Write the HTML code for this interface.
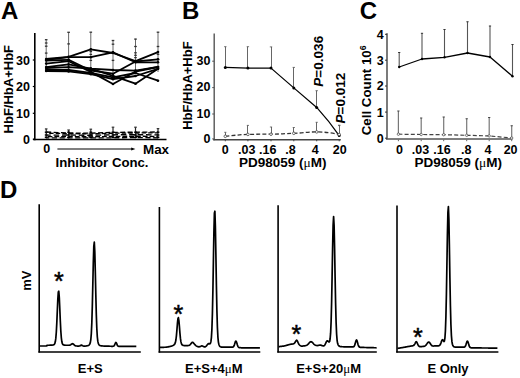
<!DOCTYPE html>
<html><head><meta charset="utf-8"><style>
html,body{margin:0;padding:0;background:#fff;}
svg{display:block;}
</style></head><body>
<svg width="520" height="378" viewBox="0 0 520 378" font-family="Liberation Sans" font-weight="bold" fill="#000">
<rect width="520" height="378" fill="#fff"/>
<text x="1" y="18.7" font-size="24" text-anchor="start" >A</text>
<line x1="34.8" y1="33" x2="34.8" y2="140.2" stroke="#000" stroke-width="1.6" />
<line x1="33" y1="139.5" x2="166.5" y2="139.5" stroke="#000" stroke-width="1.6" />
<line x1="32.8" y1="139.2" x2="34.8" y2="139.2" stroke="#000" stroke-width="1.2" />
<text x="30" y="143.7" font-size="12.5" text-anchor="end" >0</text>
<line x1="32.8" y1="113.3" x2="34.8" y2="113.3" stroke="#000" stroke-width="1.2" />
<text x="30" y="117.8" font-size="12.5" text-anchor="end" >10</text>
<line x1="32.8" y1="86.5" x2="34.8" y2="86.5" stroke="#000" stroke-width="1.2" />
<text x="30" y="91.0" font-size="12.5" text-anchor="end" >20</text>
<line x1="32.8" y1="60" x2="34.8" y2="60" stroke="#000" stroke-width="1.2" />
<text x="30" y="64.5" font-size="12.5" text-anchor="end" >30</text>
<text transform="translate(12.6,89.2) rotate(-90)" font-size="13" text-anchor="middle" >HbF/HbA+HbF</text>
<line x1="46.2" y1="39.8" x2="46.2" y2="72" stroke="#666" stroke-width="1.0" />
<line x1="44.9" y1="39.7" x2="47.5" y2="39.7" stroke="#333" stroke-width="1.3" />
<line x1="44.9" y1="43" x2="47.5" y2="43" stroke="#333" stroke-width="1.3" />
<line x1="44.9" y1="46.2" x2="47.5" y2="46.2" stroke="#333" stroke-width="1.3" />
<line x1="44.9" y1="53.1" x2="47.5" y2="53.1" stroke="#333" stroke-width="1.3" />
<line x1="68.6" y1="32.4" x2="68.6" y2="72" stroke="#666" stroke-width="1.0" />
<line x1="67.3" y1="32.3" x2="69.9" y2="32.3" stroke="#333" stroke-width="1.3" />
<line x1="67.3" y1="43.9" x2="69.9" y2="43.9" stroke="#333" stroke-width="1.3" />
<line x1="90.8" y1="32.4" x2="90.8" y2="72" stroke="#666" stroke-width="1.0" />
<line x1="89.5" y1="32.2" x2="92.1" y2="32.2" stroke="#333" stroke-width="1.3" />
<line x1="89.5" y1="51.6" x2="92.1" y2="51.6" stroke="#333" stroke-width="1.3" />
<line x1="89.5" y1="54.4" x2="92.1" y2="54.4" stroke="#333" stroke-width="1.3" />
<line x1="89.5" y1="60.4" x2="92.1" y2="60.4" stroke="#333" stroke-width="1.3" />
<line x1="113" y1="40.5" x2="113" y2="72" stroke="#666" stroke-width="1.0" />
<line x1="111.7" y1="40.5" x2="114.3" y2="40.5" stroke="#333" stroke-width="1.3" />
<line x1="111.7" y1="44.2" x2="114.3" y2="44.2" stroke="#333" stroke-width="1.3" />
<line x1="111.7" y1="60.4" x2="114.3" y2="60.4" stroke="#333" stroke-width="1.3" />
<line x1="135.5" y1="38.8" x2="135.5" y2="72" stroke="#666" stroke-width="1.0" />
<line x1="134.2" y1="39.1" x2="136.8" y2="39.1" stroke="#333" stroke-width="1.3" />
<line x1="134.2" y1="46.5" x2="136.8" y2="46.5" stroke="#333" stroke-width="1.3" />
<line x1="134.2" y1="52.8" x2="136.8" y2="52.8" stroke="#333" stroke-width="1.3" />
<line x1="134.2" y1="55.3" x2="136.8" y2="55.3" stroke="#333" stroke-width="1.3" />
<line x1="134.2" y1="57.6" x2="136.8" y2="57.6" stroke="#333" stroke-width="1.3" />
<line x1="158" y1="32.2" x2="158" y2="72" stroke="#666" stroke-width="1.0" />
<line x1="156.7" y1="32.2" x2="159.3" y2="32.2" stroke="#333" stroke-width="1.3" />
<line x1="156.7" y1="46.5" x2="159.3" y2="46.5" stroke="#333" stroke-width="1.3" />
<line x1="156.7" y1="54.4" x2="159.3" y2="54.4" stroke="#333" stroke-width="1.3" />
<line x1="156.7" y1="59.5" x2="159.3" y2="59.5" stroke="#333" stroke-width="1.3" />
<polyline points="46.20,59.00 68.60,56.80 90.80,49.30 113.00,53.00 135.50,61.10 158.00,52.10" fill="none" stroke="#000" stroke-width="1.8" stroke-linejoin="round" />
<circle cx="46.2" cy="59.0" r="1.3" fill="#000"/>
<circle cx="68.6" cy="56.8" r="1.3" fill="#000"/>
<circle cx="90.8" cy="49.3" r="1.3" fill="#000"/>
<circle cx="113" cy="53.0" r="1.3" fill="#000"/>
<circle cx="135.5" cy="61.1" r="1.3" fill="#000"/>
<circle cx="158" cy="52.1" r="1.3" fill="#000"/>
<polyline points="46.20,59.80 68.60,57.20 90.80,57.20 113.00,52.40 135.50,62.30 158.00,62.30" fill="none" stroke="#000" stroke-width="1.8" stroke-linejoin="round" />
<circle cx="46.2" cy="59.8" r="1.3" fill="#000"/>
<circle cx="68.6" cy="57.2" r="1.3" fill="#000"/>
<circle cx="90.8" cy="57.2" r="1.3" fill="#000"/>
<circle cx="113" cy="52.4" r="1.3" fill="#000"/>
<circle cx="135.5" cy="62.3" r="1.3" fill="#000"/>
<circle cx="158" cy="62.3" r="1.3" fill="#000"/>
<polyline points="46.20,60.50 68.60,59.80 90.80,70.50 113.00,73.70 135.50,61.50 158.00,59.30" fill="none" stroke="#000" stroke-width="1.8" stroke-linejoin="round" />
<circle cx="46.2" cy="60.5" r="1.3" fill="#000"/>
<circle cx="68.6" cy="59.8" r="1.3" fill="#000"/>
<circle cx="90.8" cy="70.5" r="1.3" fill="#000"/>
<circle cx="113" cy="73.7" r="1.3" fill="#000"/>
<circle cx="135.5" cy="61.5" r="1.3" fill="#000"/>
<circle cx="158" cy="59.3" r="1.3" fill="#000"/>
<polyline points="46.20,63.60 68.60,61.20 90.80,71.90 113.00,84.00 135.50,71.50 158.00,67.00" fill="none" stroke="#000" stroke-width="1.8" stroke-linejoin="round" />
<circle cx="46.2" cy="63.6" r="1.3" fill="#000"/>
<circle cx="68.6" cy="61.2" r="1.3" fill="#000"/>
<circle cx="90.8" cy="71.9" r="1.3" fill="#000"/>
<circle cx="113" cy="84.0" r="1.3" fill="#000"/>
<circle cx="135.5" cy="71.5" r="1.3" fill="#000"/>
<circle cx="158" cy="67.0" r="1.3" fill="#000"/>
<polyline points="46.20,67.10 68.60,64.40 90.80,68.60 113.00,70.00 135.50,70.60 158.00,67.00" fill="none" stroke="#000" stroke-width="1.8" stroke-linejoin="round" />
<circle cx="46.2" cy="67.1" r="1.3" fill="#000"/>
<circle cx="68.6" cy="64.4" r="1.3" fill="#000"/>
<circle cx="90.8" cy="68.6" r="1.3" fill="#000"/>
<circle cx="113" cy="70.0" r="1.3" fill="#000"/>
<circle cx="135.5" cy="70.6" r="1.3" fill="#000"/>
<circle cx="158" cy="67.0" r="1.3" fill="#000"/>
<polyline points="46.20,68.00 68.60,67.20 90.80,68.60 113.00,75.90 135.50,83.70 158.00,68.80" fill="none" stroke="#000" stroke-width="1.8" stroke-linejoin="round" />
<circle cx="46.2" cy="68.0" r="1.3" fill="#000"/>
<circle cx="68.6" cy="67.2" r="1.3" fill="#000"/>
<circle cx="90.8" cy="68.6" r="1.3" fill="#000"/>
<circle cx="113" cy="75.9" r="1.3" fill="#000"/>
<circle cx="135.5" cy="83.7" r="1.3" fill="#000"/>
<circle cx="158" cy="68.8" r="1.3" fill="#000"/>
<polyline points="46.20,70.00 68.60,70.00 90.80,72.80 113.00,77.40 135.50,73.00 158.00,80.70" fill="none" stroke="#000" stroke-width="1.8" stroke-linejoin="round" />
<circle cx="46.2" cy="70.0" r="1.3" fill="#000"/>
<circle cx="68.6" cy="70.0" r="1.3" fill="#000"/>
<circle cx="90.8" cy="72.8" r="1.3" fill="#000"/>
<circle cx="113" cy="77.4" r="1.3" fill="#000"/>
<circle cx="135.5" cy="73.0" r="1.3" fill="#000"/>
<circle cx="158" cy="80.7" r="1.3" fill="#000"/>
<polyline points="46.20,71.00 68.60,71.40 90.80,74.20 113.00,79.20 135.50,76.00 158.00,68.80" fill="none" stroke="#000" stroke-width="1.8" stroke-linejoin="round" />
<circle cx="46.2" cy="71.0" r="1.3" fill="#000"/>
<circle cx="68.6" cy="71.4" r="1.3" fill="#000"/>
<circle cx="90.8" cy="74.2" r="1.3" fill="#000"/>
<circle cx="113" cy="79.2" r="1.3" fill="#000"/>
<circle cx="135.5" cy="76.0" r="1.3" fill="#000"/>
<circle cx="158" cy="68.8" r="1.3" fill="#000"/>
<polyline points="46.20,132.00 68.60,133.00 90.80,133.20 113.00,132.40 135.50,132.20 158.00,132.00" fill="none" stroke="#000" stroke-width="1.35" stroke-linejoin="round" stroke-dasharray="5,2.4" stroke-dashoffset="0"/>
<polyline points="46.20,133.20 68.60,133.60 90.80,133.90 113.00,133.20 135.50,133.00 158.00,132.80" fill="none" stroke="#000" stroke-width="1.35" stroke-linejoin="round" stroke-dasharray="4.4,2.2" stroke-dashoffset="3.6"/>
<polyline points="46.20,135.20 68.60,135.00 90.80,135.30 113.00,134.80 135.50,134.60 158.00,134.90" fill="none" stroke="#000" stroke-width="1.35" stroke-linejoin="round" stroke-dasharray="5.6,2.8" stroke-dashoffset="1.0"/>
<polyline points="46.20,136.60 68.60,136.60 90.80,136.80 113.00,136.40 135.50,136.20 158.00,136.50" fill="none" stroke="#000" stroke-width="1.35" stroke-linejoin="round" stroke-dasharray="4.8,2.0" stroke-dashoffset="5.4"/>
<polyline points="46.20,137.80 68.60,137.80 90.80,137.90 113.00,137.80 135.50,137.60 158.00,137.80" fill="none" stroke="#000" stroke-width="1.35" stroke-linejoin="round" stroke-dasharray="5.2,2.6" stroke-dashoffset="2.2"/>
<line x1="46.2" y1="128.9" x2="46.2" y2="138.5" stroke="#222" stroke-width="1.2" />
<line x1="44.9" y1="128.9" x2="47.5" y2="128.9" stroke="#333" stroke-width="1.2" />
<line x1="44.8" y1="132.2" x2="47.6" y2="132.2" stroke="#000" stroke-width="1.4" />
<line x1="44.8" y1="135" x2="47.6" y2="135" stroke="#000" stroke-width="1.4" />
<line x1="44.8" y1="137.3" x2="47.6" y2="137.3" stroke="#000" stroke-width="1.4" />
<line x1="68.6" y1="130" x2="68.6" y2="138.5" stroke="#222" stroke-width="1.2" />
<line x1="67.3" y1="130" x2="69.9" y2="130" stroke="#333" stroke-width="1.2" />
<line x1="67.2" y1="132.2" x2="70" y2="132.2" stroke="#000" stroke-width="1.4" />
<line x1="67.2" y1="135" x2="70" y2="135" stroke="#000" stroke-width="1.4" />
<line x1="67.2" y1="137.3" x2="70" y2="137.3" stroke="#000" stroke-width="1.4" />
<line x1="90.8" y1="129.2" x2="90.8" y2="138.5" stroke="#222" stroke-width="1.2" />
<line x1="89.5" y1="129.2" x2="92.1" y2="129.2" stroke="#333" stroke-width="1.2" />
<line x1="89.4" y1="132.2" x2="92.2" y2="132.2" stroke="#000" stroke-width="1.4" />
<line x1="89.4" y1="135" x2="92.2" y2="135" stroke="#000" stroke-width="1.4" />
<line x1="89.4" y1="137.3" x2="92.2" y2="137.3" stroke="#000" stroke-width="1.4" />
<line x1="113" y1="127.2" x2="113" y2="138.5" stroke="#222" stroke-width="1.2" />
<line x1="111.7" y1="127.2" x2="114.3" y2="127.2" stroke="#333" stroke-width="1.2" />
<line x1="111.6" y1="132.2" x2="114.4" y2="132.2" stroke="#000" stroke-width="1.4" />
<line x1="111.6" y1="135" x2="114.4" y2="135" stroke="#000" stroke-width="1.4" />
<line x1="111.6" y1="137.3" x2="114.4" y2="137.3" stroke="#000" stroke-width="1.4" />
<line x1="135.5" y1="127.2" x2="135.5" y2="138.5" stroke="#222" stroke-width="1.2" />
<line x1="134.2" y1="127.2" x2="136.8" y2="127.2" stroke="#333" stroke-width="1.2" />
<line x1="134.1" y1="132.2" x2="136.9" y2="132.2" stroke="#000" stroke-width="1.4" />
<line x1="134.1" y1="135" x2="136.9" y2="135" stroke="#000" stroke-width="1.4" />
<line x1="134.1" y1="137.3" x2="136.9" y2="137.3" stroke="#000" stroke-width="1.4" />
<line x1="158" y1="128.6" x2="158" y2="138.5" stroke="#222" stroke-width="1.2" />
<line x1="156.7" y1="128.6" x2="159.3" y2="128.6" stroke="#333" stroke-width="1.2" />
<line x1="156.6" y1="132.2" x2="159.4" y2="132.2" stroke="#000" stroke-width="1.4" />
<line x1="156.6" y1="135" x2="159.4" y2="135" stroke="#000" stroke-width="1.4" />
<line x1="156.6" y1="137.3" x2="159.4" y2="137.3" stroke="#000" stroke-width="1.4" />
<text x="43.2" y="153.4" font-size="12.5" text-anchor="start" >0</text>
<line x1="57.4" y1="149" x2="132" y2="149" stroke="#000" stroke-width="1.2" />
<path d="M135.4,149 L131.2,147.4 L131.2,150.6 Z" fill="#000"/>
<text x="143" y="153.7" font-size="13.4" text-anchor="start" >Max</text>
<text x="55.5" y="167.2" font-size="13.2" text-anchor="start" >Inhibitor Conc.</text>
<text x="182" y="18.7" font-size="24" text-anchor="start" >B</text>
<line x1="214.2" y1="33.6" x2="214.2" y2="140.3" stroke="#555" stroke-width="1.4" />
<line x1="213.2" y1="139.8" x2="340.8" y2="139.8" stroke="#444" stroke-width="1.5" />
<line x1="212.2" y1="138.9" x2="214.2" y2="138.9" stroke="#555" stroke-width="1" />
<text x="210.5" y="142.70000000000002" font-size="12.5" text-anchor="end" >0</text>
<line x1="212.2" y1="114" x2="214.2" y2="114" stroke="#555" stroke-width="1" />
<text x="210.5" y="117.8" font-size="12.5" text-anchor="end" >10</text>
<line x1="212.2" y1="87.6" x2="214.2" y2="87.6" stroke="#555" stroke-width="1" />
<text x="210.5" y="91.39999999999999" font-size="12.5" text-anchor="end" >20</text>
<line x1="212.2" y1="61.2" x2="214.2" y2="61.2" stroke="#555" stroke-width="1" />
<text x="210.5" y="65.0" font-size="12.5" text-anchor="end" >30</text>
<text transform="translate(192.0,85.6) rotate(-90)" font-size="13" text-anchor="middle" >HbF/HbA+HbF</text>
<line x1="225.3" y1="139.8" x2="225.3" y2="141.3" stroke="#444" stroke-width="1" />
<line x1="247.9" y1="139.8" x2="247.9" y2="141.3" stroke="#444" stroke-width="1" />
<line x1="271" y1="139.8" x2="271" y2="141.3" stroke="#444" stroke-width="1" />
<line x1="293.8" y1="139.8" x2="293.8" y2="141.3" stroke="#444" stroke-width="1" />
<line x1="316.7" y1="139.8" x2="316.7" y2="141.3" stroke="#444" stroke-width="1" />
<line x1="339.2" y1="139.8" x2="339.2" y2="141.3" stroke="#444" stroke-width="1" />
<line x1="225.5" y1="46.7" x2="225.5" y2="67.4" stroke="#666" stroke-width="1.0" />
<line x1="224.1" y1="46.7" x2="226.5" y2="46.7" stroke="#555" stroke-width="0.8" />
<line x1="247.5" y1="46.7" x2="247.5" y2="68.1" stroke="#666" stroke-width="1.0" />
<line x1="246.7" y1="46.7" x2="249.1" y2="46.7" stroke="#555" stroke-width="0.8" />
<line x1="271.5" y1="46.9" x2="271.5" y2="68.1" stroke="#666" stroke-width="1.0" />
<line x1="269.8" y1="46.9" x2="272.2" y2="46.9" stroke="#555" stroke-width="0.8" />
<line x1="293.5" y1="67.4" x2="293.5" y2="87.9" stroke="#666" stroke-width="1.0" />
<line x1="292.6" y1="67.4" x2="295" y2="67.4" stroke="#555" stroke-width="0.8" />
<line x1="316.5" y1="90.7" x2="316.5" y2="107.4" stroke="#666" stroke-width="1.0" />
<line x1="315.5" y1="90.7" x2="317.9" y2="90.7" stroke="#555" stroke-width="0.8" />
<line x1="339.5" y1="125.2" x2="339.5" y2="135.6" stroke="#666" stroke-width="1.0" />
<line x1="338" y1="125.2" x2="340.4" y2="125.2" stroke="#555" stroke-width="0.8" />
<path d="M225.3,67.4 L247.9,68.1 L271.0,68.1 L293.8,87.9 L316.7,107.4 Q329,121 339.2,135.6" fill="none" stroke="#000" stroke-width="1.25" stroke-linejoin="round"/>
<circle cx="225.3" cy="67.4" r="1.5" fill="#000"/>
<circle cx="247.9" cy="68.1" r="1.5" fill="#000"/>
<circle cx="271.0" cy="68.1" r="1.5" fill="#000"/>
<circle cx="293.8" cy="87.9" r="1.5" fill="#000"/>
<circle cx="316.7" cy="107.4" r="1.5" fill="#000"/>
<circle cx="339.2" cy="135.6" r="1.5" fill="#000"/>
<line x1="225.5" y1="132.3" x2="225.5" y2="136.3" stroke="#666" stroke-width="1.0" />
<line x1="224.2" y1="132.3" x2="226.4" y2="132.3" stroke="#555" stroke-width="0.8" />
<line x1="247.5" y1="125.4" x2="247.5" y2="134.4" stroke="#666" stroke-width="1.0" />
<line x1="246.8" y1="125.4" x2="249" y2="125.4" stroke="#555" stroke-width="0.8" />
<line x1="271.5" y1="127" x2="271.5" y2="134.2" stroke="#666" stroke-width="1.0" />
<line x1="269.9" y1="127" x2="272.1" y2="127" stroke="#555" stroke-width="0.8" />
<line x1="293.5" y1="127.5" x2="293.5" y2="133.3" stroke="#666" stroke-width="1.0" />
<line x1="292.7" y1="127.5" x2="294.9" y2="127.5" stroke="#555" stroke-width="0.8" />
<line x1="316.5" y1="122.3" x2="316.5" y2="131.9" stroke="#666" stroke-width="1.0" />
<line x1="315.6" y1="122.3" x2="317.8" y2="122.3" stroke="#555" stroke-width="0.8" />
<line x1="339.5" y1="125.6" x2="339.5" y2="134.5" stroke="#666" stroke-width="1.0" />
<line x1="338.1" y1="125.6" x2="340.3" y2="125.6" stroke="#555" stroke-width="0.8" />
<path d="M225.3,136.3 C233,135.5 240,134.6 247.9,134.4 S 262,134.2 271.0,134.2 S 285,133.5 293.8,133.3 S 308,131.8 316.7,131.9 S 333,133 339.2,134.5" fill="none" stroke="#333" stroke-width="1.3" stroke-dasharray="4,2.2"/>
<circle cx="225.3" cy="136.3" r="1.3" fill="#fff" stroke="#333" stroke-width="0.7"/>
<circle cx="247.9" cy="134.4" r="1.3" fill="#fff" stroke="#333" stroke-width="0.7"/>
<circle cx="271.0" cy="134.2" r="1.3" fill="#fff" stroke="#333" stroke-width="0.7"/>
<circle cx="293.8" cy="133.3" r="1.3" fill="#fff" stroke="#333" stroke-width="0.7"/>
<circle cx="316.7" cy="131.9" r="1.3" fill="#fff" stroke="#333" stroke-width="0.7"/>
<circle cx="339.2" cy="134.5" r="1.3" fill="#fff" stroke="#333" stroke-width="0.7"/>
<text x="225.3" y="154.1" font-size="12.5" text-anchor="middle" >0</text>
<text x="246.8" y="154.1" font-size="12.5" text-anchor="middle" >.03</text>
<text x="267.8" y="154.1" font-size="12.5" text-anchor="middle" >.16</text>
<text x="290.4" y="154.1" font-size="12.5" text-anchor="middle" >.8</text>
<text x="315.2" y="154.1" font-size="12.5" text-anchor="middle" >4</text>
<text x="339.8" y="154.1" font-size="12.5" text-anchor="middle" >20</text>
<text x="282.8" y="166.8" font-size="13.5" text-anchor="middle" >PD98059 (<tspan font-family="Liberation Serif" font-weight="normal">μ</tspan>M)</text>
<text transform="translate(322.6,61.3) rotate(-90)" font-size="13.6" text-anchor="middle" ><tspan font-style="italic">P</tspan>=0.036</text>
<text transform="translate(344.8,98.1) rotate(-90)" font-size="13.6" text-anchor="middle" ><tspan font-style="italic">P</tspan>=0.012</text>
<text x="359.8" y="18.7" font-size="24" text-anchor="start" >C</text>
<line x1="387" y1="33.3" x2="387" y2="139.2" stroke="#333" stroke-width="1.3" />
<line x1="386" y1="138.9" x2="512.5" y2="138.9" stroke="#555" stroke-width="1.5" />
<line x1="385" y1="138.2" x2="387" y2="138.2" stroke="#333" stroke-width="1" />
<text x="383.6" y="142.6" font-size="12.5" text-anchor="end" >0</text>
<line x1="385" y1="112.1" x2="387" y2="112.1" stroke="#333" stroke-width="1" />
<text x="383.6" y="116.5" font-size="12.5" text-anchor="end" >1</text>
<line x1="385" y1="86" x2="387" y2="86" stroke="#333" stroke-width="1" />
<text x="383.6" y="90.4" font-size="12.5" text-anchor="end" >2</text>
<line x1="385" y1="60.2" x2="387" y2="60.2" stroke="#333" stroke-width="1" />
<text x="383.6" y="64.60000000000001" font-size="12.5" text-anchor="end" >3</text>
<line x1="385" y1="34.3" x2="387" y2="34.3" stroke="#333" stroke-width="1" />
<text x="383.6" y="38.699999999999996" font-size="12.5" text-anchor="end" >4</text>
<text transform="translate(371.4,90.3) rotate(-90)" font-size="13.3" text-anchor="middle" >Cell Count 10<tspan font-size="8.8" dy="-5.3">6</tspan></text>
<line x1="399.2" y1="52.5" x2="399.2" y2="67" stroke="#555" stroke-width="1.1" />
<line x1="398.1" y1="52.5" x2="400.3" y2="52.5" stroke="#333" stroke-width="1.0" />
<line x1="422" y1="33.3" x2="422" y2="59" stroke="#555" stroke-width="1.1" />
<line x1="420.9" y1="33.3" x2="423.1" y2="33.3" stroke="#333" stroke-width="1.0" />
<line x1="444.5" y1="29.5" x2="444.5" y2="57.3" stroke="#555" stroke-width="1.1" />
<line x1="443.4" y1="29.5" x2="445.6" y2="29.5" stroke="#333" stroke-width="1.0" />
<line x1="467.5" y1="21.75" x2="467.5" y2="53" stroke="#555" stroke-width="1.1" />
<line x1="466.4" y1="21.75" x2="468.6" y2="21.75" stroke="#333" stroke-width="1.0" />
<line x1="490" y1="26" x2="490" y2="57" stroke="#555" stroke-width="1.1" />
<line x1="488.9" y1="26" x2="491.1" y2="26" stroke="#333" stroke-width="1.0" />
<line x1="512.5" y1="44.5" x2="512.5" y2="76.3" stroke="#555" stroke-width="1.1" />
<line x1="511.4" y1="44.5" x2="513.6" y2="44.5" stroke="#333" stroke-width="1.0" />
<polyline points="399.20,67.00 422.00,59.00 444.50,57.30 467.50,53.00 490.00,57.00 512.50,76.30" fill="none" stroke="#000" stroke-width="1.3" stroke-linejoin="round" />
<circle cx="399.2" cy="67.0" r="1.2" fill="#000"/>
<circle cx="422.0" cy="59.0" r="1.2" fill="#000"/>
<circle cx="444.5" cy="57.3" r="1.2" fill="#000"/>
<circle cx="467.5" cy="53.0" r="1.2" fill="#000"/>
<circle cx="490.0" cy="57.0" r="1.2" fill="#000"/>
<circle cx="512.5" cy="76.3" r="1.2" fill="#000"/>
<line x1="398.4" y1="111" x2="398.4" y2="134.2" stroke="#777" stroke-width="1.2" />
<line x1="397.3" y1="111" x2="399.5" y2="111" stroke="#444" stroke-width="1.0" />
<line x1="421.2" y1="118" x2="421.2" y2="134.5" stroke="#777" stroke-width="1.2" />
<line x1="420.1" y1="118" x2="422.3" y2="118" stroke="#444" stroke-width="1.0" />
<line x1="443.7" y1="117" x2="443.7" y2="134.7" stroke="#777" stroke-width="1.2" />
<line x1="442.6" y1="117" x2="444.8" y2="117" stroke="#444" stroke-width="1.0" />
<line x1="466.7" y1="118.75" x2="466.7" y2="135.3" stroke="#777" stroke-width="1.2" />
<line x1="465.6" y1="118.75" x2="467.8" y2="118.75" stroke="#444" stroke-width="1.0" />
<line x1="489.2" y1="117.5" x2="489.2" y2="135.9" stroke="#777" stroke-width="1.2" />
<line x1="488.1" y1="117.5" x2="490.3" y2="117.5" stroke="#444" stroke-width="1.0" />
<line x1="511.7" y1="125.75" x2="511.7" y2="138" stroke="#777" stroke-width="1.2" />
<line x1="510.6" y1="125.75" x2="512.8" y2="125.75" stroke="#444" stroke-width="1.0" />
<polyline points="398.40,134.20 421.20,134.50 443.70,134.70 466.70,135.30 489.20,135.90 511.70,138.00" fill="none" stroke="#444" stroke-width="1.2" stroke-linejoin="round" stroke-dasharray="4,2.2"/>
<line x1="398.4" y1="139.6" x2="398.4" y2="141.2" stroke="#666" stroke-width="1" />
<line x1="421.2" y1="139.6" x2="421.2" y2="141.2" stroke="#666" stroke-width="1" />
<line x1="443.7" y1="139.6" x2="443.7" y2="141.2" stroke="#666" stroke-width="1" />
<line x1="466.7" y1="139.6" x2="466.7" y2="141.2" stroke="#666" stroke-width="1" />
<line x1="489.2" y1="139.6" x2="489.2" y2="141.2" stroke="#666" stroke-width="1" />
<line x1="511.7" y1="139.6" x2="511.7" y2="141.2" stroke="#666" stroke-width="1" />
<circle cx="398.4" cy="134.2" r="1.2" fill="#fff" stroke="#444" stroke-width="0.7"/>
<circle cx="421.2" cy="134.5" r="1.2" fill="#fff" stroke="#444" stroke-width="0.7"/>
<circle cx="443.7" cy="134.7" r="1.2" fill="#fff" stroke="#444" stroke-width="0.7"/>
<circle cx="466.7" cy="135.3" r="1.2" fill="#fff" stroke="#444" stroke-width="0.7"/>
<circle cx="489.2" cy="135.9" r="1.2" fill="#fff" stroke="#444" stroke-width="0.7"/>
<circle cx="511.7" cy="138.0" r="1.2" fill="#fff" stroke="#444" stroke-width="0.7"/>
<text x="399.4" y="154.2" font-size="12.5" text-anchor="middle" >0</text>
<text x="420.4" y="154.2" font-size="12.5" text-anchor="middle" >.03</text>
<text x="441.9" y="154.2" font-size="12.5" text-anchor="middle" >.16</text>
<text x="466.2" y="154.2" font-size="12.5" text-anchor="middle" >.8</text>
<text x="488.1" y="154.2" font-size="12.5" text-anchor="middle" >4</text>
<text x="510.6" y="154.2" font-size="12.5" text-anchor="middle" >20</text>
<text x="458.2" y="167.3" font-size="13.5" text-anchor="middle" >PD98059 (<tspan font-family="Liberation Serif" font-weight="normal">μ</tspan>M)</text>
<text x="0.1" y="198.3" font-size="24" text-anchor="start" >D</text>
<text transform="translate(30.5,280.6) rotate(-90)" font-size="13" text-anchor="middle" >mV</text>
<line x1="39.2" y1="204.2" x2="39.2" y2="352.6" stroke="#000" stroke-width="1.6" />
<line x1="38.4" y1="352" x2="140.8" y2="352" stroke="#000" stroke-width="1.7" />
<polyline points="39.80,346.00 40.30,346.00 40.80,346.00 41.30,346.00 41.80,346.00 42.30,346.00 42.80,346.00 43.30,346.00 43.80,346.00 44.30,346.00 44.80,346.00 45.30,346.00 45.80,346.00 46.30,345.86 46.80,345.63 47.30,345.39 47.80,345.29 48.30,345.27 48.80,345.25 49.30,345.23 49.80,345.21 50.30,345.19 50.80,345.17 51.30,345.14 51.80,345.11 52.30,345.08 52.80,345.02 53.30,344.92 53.80,344.74 54.30,344.37 54.80,343.57 55.30,341.86 55.80,338.42 56.30,332.26 56.80,322.87 57.30,311.09 57.80,299.54 58.30,291.95 58.80,291.21 59.30,297.62 59.80,308.71 60.30,320.73 60.80,330.75 61.30,337.56 61.80,341.50 62.30,343.50 62.80,344.43 63.30,344.85 63.80,345.04 64.30,345.14 64.80,345.19 65.30,345.22 65.80,345.23 66.30,345.24 66.80,345.25 67.30,345.26 67.80,345.27 68.30,345.27 68.80,345.26 69.30,345.21 69.80,345.11 70.30,344.94 70.80,344.66 71.30,344.30 71.80,343.94 72.30,343.72 72.80,343.75 73.30,344.04 73.80,344.50 74.30,344.99 74.80,345.41 75.30,345.70 75.80,345.88 76.30,345.97 76.80,346.01 77.30,346.03 77.80,346.04 78.30,346.05 78.80,346.04 79.30,345.99 79.80,345.86 80.30,345.62 80.80,345.34 81.30,345.15 81.80,345.19 82.30,345.43 82.80,345.74 83.30,345.98 83.80,346.12 84.30,346.15 84.80,346.11 85.30,346.06 85.80,346.01 86.30,345.95 86.80,345.87 87.30,345.77 87.80,345.63 88.30,345.46 88.80,345.22 89.30,344.80 89.80,344.06 90.30,342.63 90.80,339.70 91.30,333.87 91.80,323.33 92.30,306.79 92.80,285.17 93.30,262.75 93.80,246.38 94.30,242.14 94.80,251.76 95.30,271.42 95.80,294.26 96.30,314.17 96.80,328.27 97.30,336.72 97.80,341.18 98.30,343.39 98.80,344.49 99.30,345.08 99.80,345.42 100.30,345.64 100.80,345.78 101.30,345.87 101.80,345.92 102.30,345.96 102.80,345.99 103.30,346.01 103.80,346.03 104.30,346.04 104.80,346.06 105.30,346.08 105.80,346.09 106.30,346.11 106.80,346.13 107.30,346.14 107.80,346.16 108.30,346.18 108.80,346.19 109.30,346.21 109.80,346.23 110.30,346.24 110.80,346.26 111.30,346.28 111.80,346.29 112.30,346.30 112.80,346.29 113.30,346.25 113.80,346.05 114.30,345.51 114.80,344.46 115.30,343.19 115.80,342.44 116.30,342.78 116.80,343.95 117.30,345.16 117.80,345.90 118.30,346.21 118.80,346.31 119.30,346.33 119.80,346.33 120.30,346.33 120.80,346.34 121.30,346.34 121.80,346.34 122.30,346.34 122.80,346.34 123.30,346.35 123.80,346.35 124.30,346.35 124.80,346.35 125.30,346.35 125.80,346.36 126.30,346.36 126.80,346.36 127.30,346.36 127.80,346.36 128.30,346.37 128.80,346.37 129.30,346.37 129.80,346.37 130.30,346.37 130.80,346.38 131.30,346.38 131.80,346.38 132.30,346.38 132.80,346.38 133.30,346.39 133.80,346.39 134.30,346.39 134.80,346.39 135.30,346.40 135.80,346.40 136.30,346.40" fill="none" stroke="#000" stroke-width="1.7" stroke-linejoin="round" />
<text x="58.9" y="290.2" font-size="25" text-anchor="middle" font-weight="normal" stroke="#000" stroke-width="0.5">*</text>
<text x="90.3" y="373.1" font-size="13" text-anchor="middle" >E+S</text>
<line x1="159.4" y1="207" x2="159.4" y2="352.6" stroke="#000" stroke-width="1.6" />
<line x1="158.6" y1="352" x2="260.3" y2="352" stroke="#000" stroke-width="1.7" />
<polyline points="159.90,347.40 160.40,347.39 160.90,347.37 161.40,347.36 161.90,347.34 162.40,347.33 162.90,347.31 163.40,347.30 163.90,347.28 164.40,347.27 164.90,347.25 165.40,347.24 165.90,347.22 166.40,347.21 166.90,347.13 167.40,347.02 167.90,346.91 168.40,346.80 168.90,346.69 169.40,346.58 169.90,346.47 170.40,346.35 170.90,346.24 171.40,346.12 171.90,346.00 172.40,345.81 172.90,345.58 173.40,345.31 173.90,344.96 174.40,344.48 174.90,343.68 175.40,342.40 175.90,339.98 176.40,335.87 176.90,330.07 177.40,323.70 177.90,318.86 178.40,317.65 178.90,320.61 179.40,326.43 179.90,332.88 180.40,338.15 180.90,341.64 181.40,343.60 181.90,344.63 182.40,345.10 182.90,345.34 183.40,345.46 183.90,345.53 184.40,345.57 184.90,345.58 185.40,345.59 185.90,345.60 186.40,345.60 186.90,345.60 187.40,345.59 187.90,345.57 188.40,345.52 188.90,345.42 189.40,345.22 189.90,344.89 190.40,344.39 190.90,343.77 191.40,343.13 191.90,342.61 192.40,342.36 192.90,342.45 193.40,342.86 193.90,343.45 194.40,344.08 194.90,344.61 195.40,345.16 195.90,345.60 196.40,345.93 196.90,346.19 197.40,346.41 197.90,346.61 198.40,346.81 198.90,347.00 199.40,346.81 199.90,346.61 200.40,346.42 200.90,346.23 201.40,346.03 201.90,345.84 202.40,345.98 202.90,346.20 203.40,346.42 203.90,346.64 204.40,346.84 204.90,346.89 205.40,346.68 205.90,346.36 206.40,345.87 206.90,345.24 207.40,344.56 207.90,344.01 208.40,343.71 208.90,343.70 209.40,343.81 209.90,343.77 210.40,343.29 210.90,341.63 211.40,337.56 211.90,329.08 212.40,313.81 212.90,290.43 213.40,260.99 213.90,232.08 214.40,213.06 214.90,211.22 215.40,227.33 215.90,255.12 216.40,285.22 216.90,310.23 217.40,327.23 217.90,337.05 218.40,342.09 218.90,344.51 219.40,345.72 219.90,346.37 220.40,346.73 220.90,346.93 221.40,347.06 221.90,347.13 222.40,347.16 222.90,347.18 223.40,347.19 223.90,347.20 224.40,347.20 224.90,347.20 225.40,347.20 225.90,347.20 226.40,347.20 226.90,347.20 227.40,347.20 227.90,347.20 228.40,347.20 228.90,347.20 229.40,347.20 229.90,347.20 230.40,347.20 230.90,347.20 231.40,347.20 231.90,347.19 232.40,347.18 232.90,347.10 233.40,346.80 233.90,346.09 234.40,344.82 234.90,343.15 235.40,341.64 235.90,341.04 236.40,341.70 236.90,343.27 237.40,345.01 237.90,346.34 238.40,347.11 238.90,347.47 239.40,347.62 239.90,347.68 240.40,347.72 240.90,347.75 241.40,347.78 241.90,347.80 242.40,347.80 242.90,347.80 243.40,347.80 243.90,347.80 244.40,347.80 244.90,347.80 245.40,347.80 245.90,347.80 246.40,347.80 246.90,347.80 247.40,347.80 247.90,347.80 248.40,347.80 248.90,347.80 249.40,347.80 249.90,347.80 250.40,347.80 250.90,347.80 251.40,347.80 251.90,347.80 252.40,347.80 252.90,347.80 253.40,347.80 253.90,347.80 254.40,347.80 254.90,347.80 255.40,347.80 255.90,347.80 256.40,347.80 256.90,347.80 257.40,347.80 257.90,347.80 258.40,347.80 258.90,347.80 259.40,347.80 259.90,347.80" fill="none" stroke="#000" stroke-width="1.7" stroke-linejoin="round" />
<text x="178.4" y="322.6" font-size="25" text-anchor="middle" font-weight="normal" stroke="#000" stroke-width="0.5">*</text>
<text x="213.9" y="373.1" font-size="13" text-anchor="middle" >E+S+4<tspan font-family="Liberation Serif" font-weight="normal">μ</tspan>M</text>
<line x1="278.1" y1="205.2" x2="278.1" y2="352.6" stroke="#000" stroke-width="1.6" />
<line x1="277.3" y1="352" x2="376.8" y2="352" stroke="#000" stroke-width="1.7" />
<polyline points="278.60,346.70 279.10,346.64 279.60,346.57 280.10,346.51 280.60,346.44 281.10,346.38 281.60,346.31 282.10,346.25 282.60,346.18 283.10,346.12 283.60,346.05 284.10,345.97 284.60,345.84 285.10,345.71 285.60,345.58 286.10,345.45 286.60,345.32 287.10,345.19 287.60,345.06 288.10,344.93 288.60,344.80 289.10,344.67 289.60,344.54 290.10,344.41 290.60,344.28 291.10,344.17 291.60,344.11 292.10,344.04 292.60,343.97 293.10,343.87 293.60,343.70 294.10,343.42 294.60,343.04 295.10,342.34 295.60,341.42 296.10,340.60 296.60,340.24 297.10,340.57 297.60,341.49 298.10,342.66 298.60,343.70 299.10,344.48 299.60,345.06 300.10,345.45 300.60,345.75 301.10,346.00 301.60,346.19 302.10,346.13 302.60,346.07 303.10,346.01 303.60,345.95 304.10,345.89 304.60,345.82 305.10,345.74 305.60,345.63 306.10,345.49 306.60,345.29 307.10,345.01 307.60,344.63 308.10,344.16 308.60,343.60 309.10,343.01 309.60,342.48 310.10,342.05 310.60,341.77 311.10,341.70 311.60,341.86 312.10,342.21 312.60,342.69 313.10,343.23 313.60,343.80 314.10,344.29 314.60,344.70 315.10,345.01 315.60,345.23 316.10,345.38 316.60,345.48 317.10,345.55 317.60,345.53 318.10,345.44 318.60,345.35 319.10,345.26 319.60,345.17 320.10,345.07 320.60,345.04 321.10,345.22 321.60,345.41 322.10,345.60 322.60,345.77 323.10,345.92 323.60,346.02 324.10,345.74 324.60,345.21 325.10,344.43 325.60,343.40 326.10,342.28 326.60,341.40 327.10,340.87 327.60,340.82 328.10,341.21 328.60,341.77 329.10,342.05 329.60,341.47 330.10,339.04 330.60,333.18 331.10,321.67 331.60,302.68 332.10,276.66 332.60,248.15 333.10,225.38 333.60,216.65 334.10,225.47 334.60,248.33 335.10,276.93 335.60,303.07 336.10,322.22 336.60,333.98 337.10,340.27 337.60,343.35 338.10,344.84 338.60,345.61 339.10,346.06 339.60,346.35 340.10,346.53 340.60,346.62 341.10,346.68 341.60,346.71 342.10,346.74 342.60,346.75 343.10,346.77 343.60,346.78 344.10,346.79 344.60,346.80 345.10,346.82 345.60,346.83 346.10,346.84 346.60,346.85 347.10,346.86 347.60,346.87 348.10,346.88 348.60,346.89 349.10,346.91 349.60,346.92 350.10,346.93 350.60,346.94 351.10,346.95 351.60,346.96 352.10,346.97 352.60,346.97 353.10,346.93 353.60,346.79 354.10,346.37 354.60,345.44 355.10,343.88 355.60,341.96 356.10,340.39 356.60,339.99 357.10,340.98 357.60,342.84 358.10,344.73 358.60,346.09 359.10,346.84 359.60,347.16 360.10,347.29 360.60,347.34 361.10,347.37 361.60,347.40 362.10,347.41 362.60,347.42 363.10,347.44 363.60,347.45 364.10,347.46 364.60,347.48 365.10,347.49 365.60,347.50 366.10,347.52 366.60,347.53 367.10,347.54 367.60,347.56 368.10,347.57 368.60,347.59 369.10,347.60 369.60,347.61 370.10,347.63 370.60,347.64 371.10,347.65 371.60,347.67 372.10,347.68 372.60,347.69 373.10,347.71 373.60,347.72 374.10,347.73 374.60,347.75 375.10,347.76 375.60,347.77 376.10,347.79 376.60,347.80" fill="none" stroke="#000" stroke-width="1.7" stroke-linejoin="round" />
<text x="296.4" y="343.0" font-size="25" text-anchor="middle" font-weight="normal" stroke="#000" stroke-width="0.5">*</text>
<text x="328.6" y="373.1" font-size="13" text-anchor="middle" >E+S+20<tspan font-family="Liberation Serif" font-weight="normal">μ</tspan>M</text>
<line x1="397" y1="205.6" x2="397" y2="352.6" stroke="#000" stroke-width="1.6" />
<line x1="396.2" y1="352" x2="498.4" y2="352" stroke="#000" stroke-width="1.7" />
<polyline points="397.40,348.40 397.90,348.32 398.40,348.23 398.90,348.15 399.40,348.07 399.90,347.98 400.40,347.90 400.90,347.82 401.40,347.73 401.90,347.65 402.40,347.57 402.90,347.48 403.40,347.40 403.90,347.32 404.40,347.23 404.90,347.13 405.40,347.04 405.90,346.95 406.40,346.86 406.90,346.77 407.40,346.68 407.90,346.58 408.40,346.49 408.90,346.40 409.40,346.31 409.90,346.22 410.40,346.14 410.90,346.06 411.40,345.99 411.90,345.91 412.40,345.83 412.90,345.73 413.40,345.56 413.90,345.22 414.40,344.69 414.90,343.82 415.40,342.73 415.90,341.86 416.40,341.68 416.90,342.33 417.40,343.50 417.90,344.69 418.40,345.59 418.90,346.12 419.40,346.41 419.90,346.58 420.40,346.70 420.90,346.66 421.40,346.61 421.90,346.57 422.40,346.52 422.90,346.47 423.40,346.41 423.90,346.32 424.40,346.18 424.90,345.96 425.40,345.65 425.90,345.21 426.40,344.60 426.90,343.87 427.40,343.12 427.90,342.49 428.40,342.12 428.90,342.09 429.40,342.41 429.90,343.02 430.40,343.77 430.90,344.52 431.40,345.17 431.90,345.67 432.40,345.92 432.90,346.02 433.40,346.03 433.90,345.98 434.40,345.97 434.90,345.96 435.40,345.95 435.90,345.94 436.40,345.92 436.90,345.90 437.40,345.89 437.90,345.86 438.40,345.83 438.90,345.75 439.40,345.55 439.90,345.11 440.40,344.32 440.90,343.10 441.40,341.62 441.90,340.32 442.40,339.72 442.90,340.01 443.40,340.87 443.90,341.56 444.40,341.11 444.90,338.22 445.40,330.99 445.90,317.06 446.40,294.74 446.90,265.33 447.40,234.74 447.90,212.38 448.40,206.62 448.90,219.82 449.40,246.76 449.90,277.98 450.40,305.12 450.90,324.21 451.40,335.54 451.90,341.43 452.40,344.25 452.90,345.61 453.40,346.32 453.90,346.70 454.40,346.92 454.90,347.04 455.40,347.12 455.90,347.16 456.40,347.18 456.90,347.19 457.40,347.20 457.90,347.20 458.40,347.20 458.90,347.20 459.40,347.20 459.90,347.20 460.40,347.20 460.90,347.20 461.40,347.20 461.90,347.20 462.40,347.20 462.90,347.20 463.40,347.19 463.90,347.16 464.40,347.05 464.90,346.77 465.40,346.08 465.90,344.83 466.40,343.16 466.90,341.67 467.40,341.09 467.90,341.77 468.40,343.35 468.90,345.11 469.40,346.46 469.90,347.25 470.40,347.62 470.90,347.78 471.40,347.86 471.90,347.90 472.40,347.91 472.90,347.91 473.40,347.91 473.90,347.92 474.40,347.92 474.90,347.92 475.40,347.93 475.90,347.93 476.40,347.94 476.90,347.94 477.40,347.94 477.90,347.95 478.40,347.95 478.90,347.96 479.40,347.96 479.90,347.96 480.40,347.97 480.90,347.97 481.40,347.97 481.90,347.98 482.40,347.98 482.90,347.99 483.40,347.99 483.90,347.99 484.40,348.00 484.90,348.00 485.40,348.00 485.90,348.01 486.40,348.01 486.90,348.02 487.40,348.02 487.90,348.02 488.40,348.03 488.90,348.03 489.40,348.04 489.90,348.04 490.40,348.04 490.90,348.05 491.40,348.05 491.90,348.05 492.40,348.06 492.90,348.06 493.40,348.07 493.90,348.07 494.40,348.07 494.90,348.08 495.40,348.08 495.90,348.09 496.40,348.09 496.90,348.09 497.40,348.10" fill="none" stroke="#000" stroke-width="1.7" stroke-linejoin="round" />
<text x="417.8" y="346.3" font-size="25" text-anchor="middle" font-weight="normal" stroke="#000" stroke-width="0.5">*</text>
<text x="448.0" y="373.1" font-size="13" text-anchor="middle" >E Only</text>
</svg>
</body></html>
